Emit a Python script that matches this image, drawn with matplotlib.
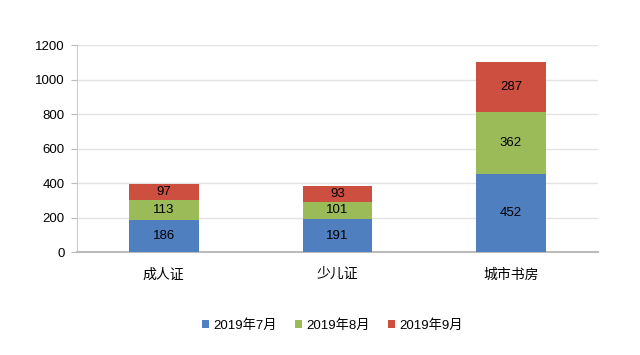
import matplotlib
matplotlib.use("Agg")
import matplotlib.pyplot as plt
import numpy as np

plt.rcParams['font.family'] = ['Liberation Sans', 'Noto Sans CJK SC', 'DejaVu Sans']

categories = ["成人证", "少儿证", "城市书房"]
series_names = ["2019年7月", "2019年8月", "2019年9月"]
jul = [186, 191, 452]
aug = [113, 101, 362]
sep = [97, 93, 287]
colors = ["#4F7FBF", "#9BBB59", "#CD4F3F"]

fig = plt.figure(figsize=(6.4, 3.55), dpi=100)
ax = fig.add_axes([0.1203, 0.290, 0.8137, 0.583])

x = np.arange(len(categories))
bottom = np.zeros(len(categories))
for name, vals, c in zip(series_names, [jul, aug, sep], colors):
    ax.bar(x, vals, width=0.4, bottom=bottom, color=c, label=name, zorder=3)
    for xi, b, v in zip(x, bottom, vals):
        ax.text(xi, b + v / 2, str(v), ha="center", va="center", fontsize=9.5,
                color="black", zorder=4)
    bottom += np.array(vals)

ax.set_xlim(-0.5, 2.5)
ax.set_ylim(0, 1200)
ax.set_yticks(range(0, 1201, 200))
ax.set_xticks(x)
ax.set_xticklabels(categories, fontsize=10)
ax.tick_params(axis="y", labelsize=9.5, length=4, color="#BBBBBB", pad=5)
ax.tick_params(axis="x", length=0, pad=11)
ax.yaxis.grid(True, color="#E3E3E3", linewidth=1, zorder=0)
for s in ["top", "right"]:
    ax.spines[s].set_visible(False)
ax.spines["left"].set_color("#CCCCCC")
ax.spines["bottom"].set_color("#BBBBBB")
ax.spines["bottom"].set_linewidth(1.5)

ax.legend(loc="center", bbox_to_anchor=(0.49, -0.355), ncol=3, frameon=False,
          fontsize=9.5, handlelength=0.55, handleheight=0.55, handletextpad=0.3,
          columnspacing=1.4)

fig.savefig("out.png", dpi=100)
